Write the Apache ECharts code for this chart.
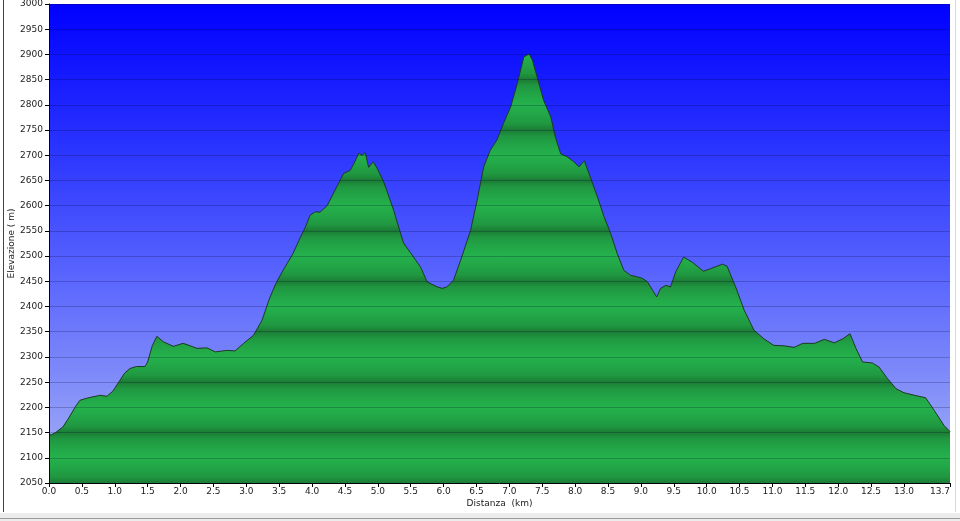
<!DOCTYPE html>
<html>
<head>
<meta charset="utf-8">
<script src="https://cdn.jsdelivr.net/npm/echarts@6/dist/echarts.min.js"></script>
<style>html,body{margin:0;padding:0;background:#fff;}#c{width:960px;height:521px;}</style>
</head>
<body>
<div id="c"></div>
<script>
const distances = [0.00,0.04,0.10,0.21,0.30,0.40,0.47,0.57,0.67,0.78,0.88,0.97,1.08,1.15,1.23,1.33,1.46,1.50,1.57,1.64,1.74,1.89,2.04,2.15,2.25,2.40,2.53,2.70,2.83,2.96,3.11,3.24,3.35,3.45,3.56,3.71,3.80,3.90,3.97,4.05,4.12,4.23,4.35,4.48,4.58,4.65,4.71,4.76,4.81,4.86,4.93,4.99,5.09,5.24,5.39,5.50,5.65,5.75,5.90,5.98,6.05,6.15,6.26,6.41,6.51,6.61,6.71,6.81,6.91,7.02,7.12,7.22,7.30,7.35,7.42,7.52,7.63,7.70,7.78,7.88,7.98,8.06,8.14,8.23,8.34,8.44,8.54,8.64,8.74,8.84,8.94,9.02,9.10,9.24,9.30,9.38,9.45,9.53,9.65,9.78,9.95,10.06,10.24,10.31,10.44,10.57,10.72,10.87,11.02,11.18,11.33,11.46,11.64,11.79,11.94,12.07,12.18,12.27,12.37,12.52,12.62,12.75,12.88,13.00,13.16,13.33,13.46,13.61,13.70];
const elevations = [2145,2146,2150,2161,2179,2201,2214,2218,2221,2224,2222,2232,2254,2268,2277,2281,2281,2290,2322,2341,2330,2321,2327,2322,2317,2318,2310,2313,2312,2327,2343,2373,2415,2446,2472,2505,2531,2558,2581,2588,2587,2600,2631,2664,2670,2687,2704,2700,2705,2676,2687,2674,2647,2591,2526,2506,2478,2449,2439,2436,2439,2452,2492,2551,2611,2677,2710,2730,2763,2796,2842,2895,2901,2889,2856,2809,2776,2736,2703,2697,2687,2677,2689,2657,2617,2578,2545,2505,2472,2462,2459,2456,2449,2419,2436,2442,2439,2469,2498,2488,2470,2475,2484,2480,2439,2393,2353,2336,2323,2322,2319,2327,2327,2335,2328,2336,2346,2317,2290,2288,2280,2257,2237,2229,2224,2219,2194,2164,2152];
const xTicks = [0,0.5,1,1.5,2,2.5,3,3.5,4,4.5,5,5.5,6,6.5,7,7.5,8,8.5,9,9.5,10,10.5,11,11.5,12,12.5,13,13.7];
const yMin = 2050, yMax = 3000, yStep = 50;

const gridTop = 4, gridBottom = 38, H = 521;
const plotTop = gridTop, plotBottom = H - gridBottom;

// striped green fill (dark at x50, bright at x00)
const stops = [];
for (let v = yMax; v >= yMin; v -= 12.5) {
  const off = (yMax - v) / (yMax - yMin);
  const m = ((v % 100) + 100) % 100;
  const d = Math.min(Math.abs(m - 50), 50) / 50; // 0 at x50, 1 at x00
  const t = Math.sqrt(d);
  const r = Math.round(0x1b + (0x24 - 0x1b) * t);
  const g = Math.round(0x7c + (0xb1 - 0x7c) * t);
  const b = Math.round(0x35 + (0x4c - 0x35) * t);
  stops.push({offset: off, color: 'rgb(' + r + ',' + g + ',' + b + ')'});
}
const greenFill = new echarts.graphic.LinearGradient(0, plotTop, 0, plotBottom, stops, true);
const blueFill = new echarts.graphic.LinearGradient(0, 0, 0, 1, [
  {offset: 0, color: '#0000ff'},
  {offset: 0.3, color: '#2a34ff'},
  {offset: 0.6, color: '#5f6bfd'},
  {offset: 1, color: '#a7b3f4'}
]);

const chart = echarts.init(document.getElementById('c'), null, {renderer: 'canvas'});
const font = 'DejaVu Sans';
chart.setOption({
  animation: false,
  backgroundColor: '#ffffff',
  grid: {left: 49, right: 10, top: gridTop, bottom: gridBottom, show: true, backgroundColor: blueFill, borderWidth: 0,
    containLabel: false, outerBoundsMode: 'none'},
  xAxis: {
    type: 'value', min: 0, max: 13.7,
    name: 'Distanza  (km)', nameLocation: 'middle', nameGap: 16, nameMoveOverlap: false,
    nameTextStyle: {fontFamily: font, fontSize: 9, color: '#222'},
    axisLine: {show: true, lineStyle: {color: '#000', width: 1}},
    axisTick: {show: true, length: 4, lineStyle: {color: '#000'}, customValues: xTicks},
    axisLabel: {fontFamily: font, fontSize: 9, color: '#222', margin: 4, customValues: xTicks,
      formatter: v => v.toFixed(1), alignMaxLabel: 'right'},
    splitLine: {show: false}
  },
  yAxis: {
    type: 'value', min: yMin, max: yMax, interval: yStep, z: 5,
    name: 'Elevazione ( m)', nameLocation: 'middle', nameGap: 33, nameRotate: 90, nameMoveOverlap: false,
    nameTextStyle: {fontFamily: font, fontSize: 9, color: '#222'},
    axisLine: {show: true, lineStyle: {color: '#000', width: 1}},
    axisTick: {show: true, length: 4, lineStyle: {color: '#000'}},
    axisLabel: {fontFamily: font, fontSize: 9, color: '#222', margin: 6, formatter: v => String(v)},
    splitLine: {show: true, lineStyle: {color: 'rgba(0,0,40,0.22)', width: 1}}
  },
  series: [{
    type: 'line', z: 2,
    data: distances.map((d, i) => [d, elevations[i]]),
    symbol: 'none', smooth: false,
    lineStyle: {color: '#1e3a22', width: 1},
    areaStyle: {color: greenFill, opacity: 1, origin: 'start'}
  }],
  graphic: [
    {type: 'line', shape: {x1: 3.5, y1: 0, x2: 3.5, y2: 512}, style: {stroke: '#444', lineWidth: 1}},
    {type: 'line', shape: {x1: 955.5, y1: 0, x2: 955.5, y2: 512}, style: {stroke: '#d8d8d8', lineWidth: 1}},
    {type: 'rect', shape: {x: 0, y: 513, width: 960, height: 8}, style: {fill: '#ececec'}},
    {type: 'line', shape: {x1: 0, y1: 518.5, x2: 960, y2: 518.5}, style: {stroke: '#9a9a9a', lineWidth: 1}}
  ]
});
</script>
</body>
</html>
